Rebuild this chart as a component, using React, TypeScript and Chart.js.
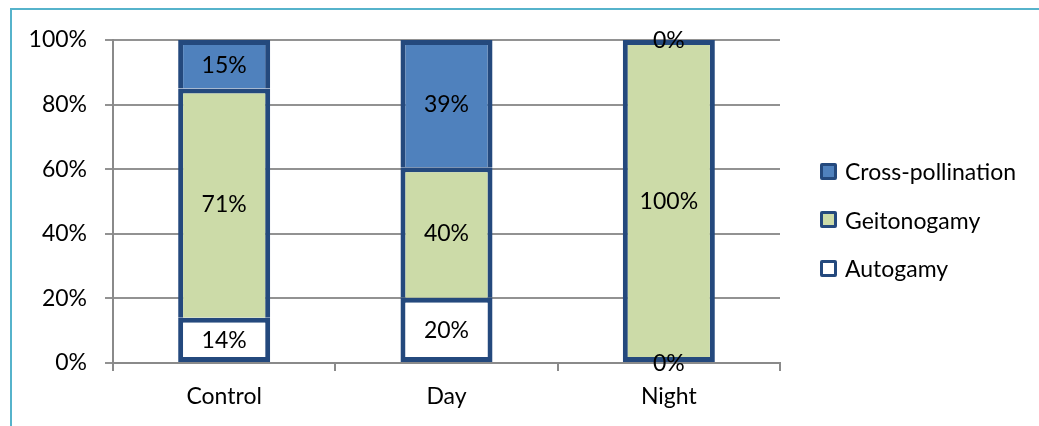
import React, { useEffect, useRef } from "react";
import { Chart, registerables } from "chart.js";

Chart.register(...registerables);

const categories = ["Control", "Day", "Night"];
const autogamy = [14, 20, 0];
const geitonogamy = [71, 40, 100];
const crossPollination = [15, 39, 0];
const yTickValues = [0, 20, 40, 60, 80, 100];

const seriesNames = ["Autogamy", "Geitonogamy", "Cross-pollination"];
const seriesColors = ["#FFFFFF", "#CCDBA8", "#4F81BD"];
const BORDER = "#24497D";
const FONT = "Lato, 'Open Sans', sans-serif";
const BW = 5;

const seriesValues = [autogamy, geitonogamy, crossPollination];
const totals = categories.map((_, i) =>
  seriesValues.reduce((s, arr) => s + arr[i], 0)
);

const labelPlugin = {
  id: "segLabels",
  afterDraw(chart: any) {
    const ctx = chart.ctx;
    ctx.save();
    ctx.font = `23px ${FONT}`;
    ctx.fillStyle = "#000";
    ctx.textAlign = "center";
    ctx.textBaseline = "middle";
    chart.data.datasets.forEach((ds: any, di: number) => {
      const meta = chart.getDatasetMeta(di);
      meta.data.forEach((el: any, i: number) => {
        const raw = ds.rawValues[i];
        const y = (el.y + el.base) / 2;
        ctx.fillText(`${raw}%`, el.x, y + 1);
      });
    });
    ctx.restore();
  },
};

function App() {
  const ref = useRef<HTMLCanvasElement | null>(null);

  useEffect(() => {
    if (!ref.current) return;
    const datasets = seriesValues.map((vals, di) => ({
      label: seriesNames[di],
      data: vals.map((v, i) => (v / totals[i]) * 100),
      rawValues: vals,
      backgroundColor: seriesColors[di],
      borderColor: BORDER,
      borderSkipped: false as const,
      borderWidth: (c: any) => {
        const i = c.dataIndex;
        let lowerZero = true;
        for (let k = 0; k < di; k++) if (seriesValues[k][i] !== 0) lowerZero = false;
        return { left: BW, right: BW, top: BW, bottom: lowerZero ? BW : 0 };
      },
      inflateAmount: 0,
      categoryPercentage: 1,
      barPercentage: 0.414,
    }));

    const chart = new Chart(ref.current, {
      type: "bar",
      data: { labels: categories, datasets: datasets as any },
      options: {
        responsive: false,
        animation: false,
        devicePixelRatio: 1,
        layout: { padding: { left: 0, right: 259, top: 40, bottom: 0 } },
        plugins: { legend: { display: false }, tooltip: { enabled: false } },
        scales: {
          x: {
            stacked: true,
            grid: {
              offset: true,
              drawOnChartArea: false,
              tickLength: 8,
              color: "#8A8A8A",
              lineWidth: 2,
            },
            border: { color: "#8A8A8A", width: 2 },
            ticks: { font: { family: FONT, size: 23 }, color: "#000", padding: 12 },
            afterFit: (s: any) => {
              s.height = 63;
            },
          },
          y: {
            stacked: true,
            min: 0,
            max: 100,
            z: 1,
            afterBuildTicks: (s: any) => {
              s.ticks = yTickValues.map((v) => ({ value: v }));
            },
            grid: { color: "rgba(110,110,110,0.75)", tickLength: 8, lineWidth: 2 },
            border: { color: "#8A8A8A", width: 2 },
            ticks: {
              font: { family: FONT, size: 23 },
              color: "#000",
              padding: 18,
              callback: (v: any) => `${v}%`,
            },
            afterFit: (s: any) => {
              s.width = 113;
            },
          },
        },
      },
      plugins: [labelPlugin],
    });
    return () => chart.destroy();
  }, []);

  const legendOrder = [2, 1, 0];
  return (
    <div
      style={{
        position: "absolute",
        left: 0,
        top: 0,
        width: 1039,
        height: 426,
        overflow: "hidden",
        background: "#fff",
      }}
    >
      <div
        style={{
          position: "absolute",
          left: 10,
          top: 8,
          width: 1060,
          height: 460,
          border: "2px solid #56B3CB",
          boxSizing: "border-box",
        }}
      />
      <canvas
        ref={ref}
        width={1039}
        height={426}
        style={{ position: "absolute", left: 0, top: 0, width: 1039, height: 426 }}
      />
      {legendOrder.map((di, k) => (
        <div
          key={di}
          style={{
            position: "absolute",
            left: 820,
            top: 171 + k * 48.5 - 14,
            height: 28,
            display: "flex",
            alignItems: "center",
            fontFamily: FONT,
            fontSize: 23,
            color: "#000",
            whiteSpace: "nowrap",
          }}
        >
          <span
            style={{
              display: "inline-block",
              width: 17,
              height: 17,
              boxSizing: "border-box",
              border: `3px solid ${BORDER}`,
              borderRadius: 2,
              background: seriesColors[di],
              marginRight: 8,
            }}
          />
          {seriesNames[di]}
        </div>
      ))}
    </div>
  );
}

export default App;
